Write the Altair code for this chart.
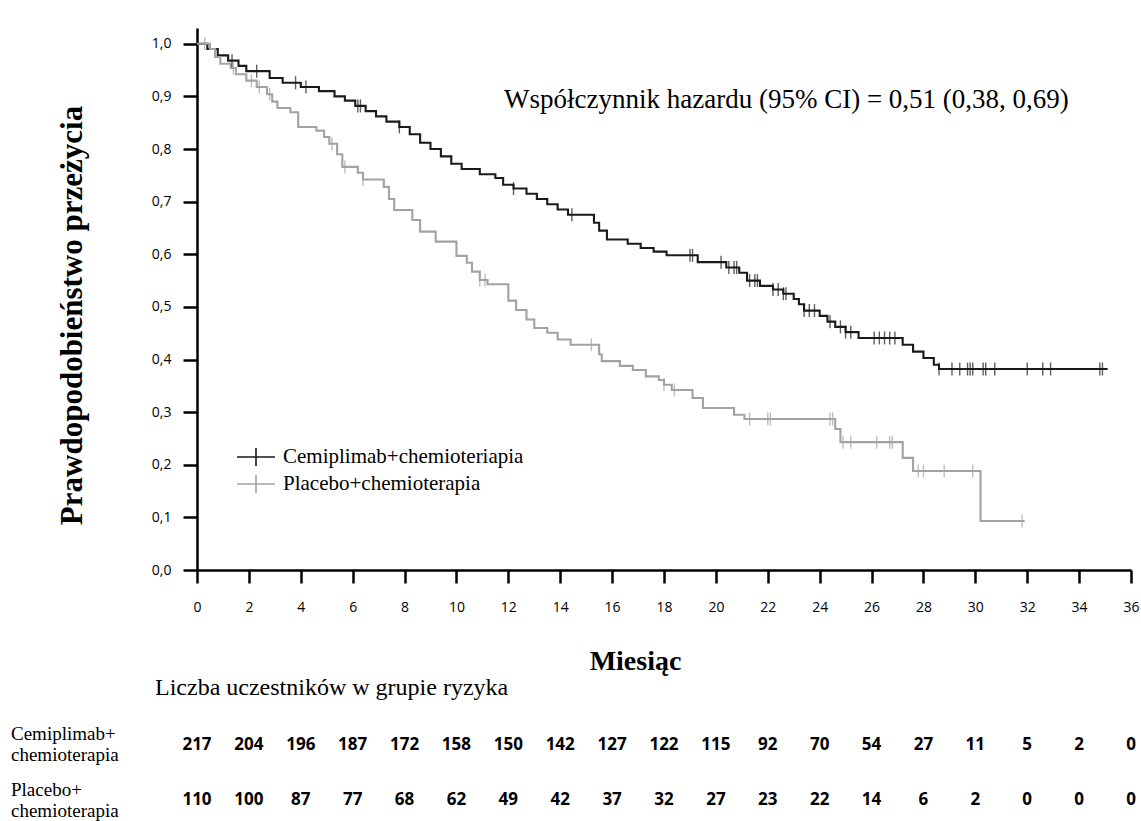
import altair as alt
import pandas as pd
import numpy as np

arm_names = ["Cemiplimab+chemioteriapia", "Placebo+chemioterapia"]

cem_time = [0, 0.4, 0.8, 1.2, 1.6, 1.9, 2.8, 3.3, 4.0, 4.7, 5.3, 5.7, 6.1, 6.5, 6.9, 7.3, 7.8,
            8.2, 8.6, 9.0, 9.4, 9.8, 10.2, 10.9, 11.5, 11.8, 12.2, 12.7, 13.1, 13.5, 13.9, 14.3,
            15.3, 15.5, 15.8, 16.6, 17.1, 17.6, 18.1, 19.3, 20.4, 20.9, 21.2, 21.7, 22.2, 22.6,
            23.0, 23.2, 23.4, 24.0, 24.3, 24.6, 25.0, 25.5, 27.2, 27.6, 28.0, 28.4, 28.6, 35.1]
cem_surv = [1.0, 0.99, 0.978, 0.968, 0.958, 0.948, 0.935, 0.926, 0.918, 0.91, 0.9, 0.892, 0.882,
            0.872, 0.862, 0.852, 0.842, 0.828, 0.812, 0.8, 0.786, 0.772, 0.762, 0.752, 0.745,
            0.732, 0.725, 0.715, 0.705, 0.695, 0.685, 0.675, 0.66, 0.645, 0.628, 0.62, 0.612,
            0.605, 0.598, 0.585, 0.575, 0.565, 0.55, 0.54, 0.533, 0.525, 0.515, 0.505, 0.493,
            0.483, 0.472, 0.462, 0.452, 0.441, 0.428, 0.415, 0.403, 0.39, 0.382, 0.382]

pla_time = [0, 0.5, 0.7, 0.9, 1.3, 1.5, 1.9, 2.3, 2.7, 2.9, 3.1, 3.6, 3.9, 4.6, 4.9, 5.1, 5.4,
            5.6, 6.2, 6.4, 7.2, 7.4, 7.6, 8.3, 8.6, 9.2, 10.0, 10.4, 10.6, 10.9, 11.2, 12.0,
            12.3, 12.7, 13.0, 13.5, 13.9, 14.4, 15.5, 15.6, 16.3, 16.8, 17.3, 17.8, 18.0, 18.3,
            19.1, 19.5, 20.7, 21.1, 24.6, 24.8, 27.2, 27.6, 30.2, 31.9]
pla_surv = [1.0, 0.99, 0.975, 0.962, 0.954, 0.942, 0.93, 0.918, 0.904, 0.89, 0.878, 0.87, 0.842,
            0.835, 0.823, 0.81, 0.79, 0.766, 0.755, 0.742, 0.728, 0.705, 0.684, 0.665, 0.643,
            0.624, 0.597, 0.584, 0.567, 0.551, 0.543, 0.512, 0.494, 0.476, 0.46, 0.451, 0.438,
            0.428, 0.41, 0.397, 0.388, 0.38, 0.368, 0.361, 0.352, 0.342, 0.327, 0.308, 0.295,
            0.287, 0.268, 0.243, 0.213, 0.188, 0.093, 0.093]

cem_censor = [1.35, 2.3, 3.8, 4.2, 6.2, 6.3, 7.8, 12.2, 14.45, 19.0, 19.1, 20.2, 20.5, 20.7,
              20.8, 21.3, 21.5, 21.6, 22.2, 22.4, 22.6, 22.7, 23.4, 23.6, 23.8, 24.4, 24.8,
              25.0, 25.2, 26.1, 26.3, 26.5, 26.7, 26.9, 28.6, 29.1, 29.4, 29.7, 29.8, 29.9,
              30.3, 30.4, 30.75, 32.0, 32.6, 32.9, 34.8, 34.9]
pla_censor = [0.3, 1.4, 2.1, 2.4, 2.8, 5.2, 5.7, 6.4, 10.9, 11.1, 15.2, 18.0, 18.4, 21.3, 22.0,
              22.1, 24.4, 24.5, 24.9, 25.2, 26.2, 26.7, 26.8, 27.8, 28.0, 28.8, 29.9, 31.8]

risk_months = list(range(0, 37, 2))
risk_cem = [217, 204, 196, 187, 172, 158, 150, 142, 127, 122, 115, 92, 70, 54, 27, 11, 5, 2, 0]
risk_pla = [110, 100, 87, 77, 68, 62, 49, 42, 37, 32, 27, 23, 22, 14, 6, 2, 0, 0, 0]

x_ticks = list(range(0, 37, 2))
y_ticks = [round(i * 0.05, 2) for i in range(21)]

hazard_text = "Współczynnik hazardu (95% CI) = 0,51 (0,38, 0,69)"
risk_title = "Liczba uczestników w grupie ryzyka"
row_label_cem = "Cemiplimab+\nchemioterapia"
row_label_pla = "Placebo+\nchemioterapia"

# ---------- tables ----------
def surv_at(times, survs, t):
    i = int(np.searchsorted(np.array(times), t, side="right")) - 1
    return survs[i]

curves = pd.concat([
    pd.DataFrame({"t": cem_time, "s": cem_surv, "arm": arm_names[0]}),
    pd.DataFrame({"t": pla_time, "s": pla_surv, "arm": arm_names[1]}),
])
censors = pd.concat([
    pd.DataFrame({"t": cem_censor, "s": [surv_at(cem_time, cem_surv, t) for t in cem_censor], "arm": arm_names[0]}),
    pd.DataFrame({"t": pla_censor, "s": [surv_at(pla_time, pla_surv, t) for t in pla_censor], "arm": arm_names[1]}),
])
risk_df_c = pd.DataFrame({"m": risk_months, "n": risk_cem})
risk_df_p = pd.DataFrame({"m": risk_months, "n": risk_pla})

SERIF = "Liberation Serif"
SANS = "Open Sans"

x_scale = alt.Scale(domain=[0, 36], nice=False, zero=False)
y_scale = alt.Scale(domain=[0, 1.03], nice=False)
color_scale = alt.Scale(domain=arm_names, range=["#1a1a1a", "#a2a2a2"])

x_axis = alt.Axis(
    values=x_ticks, title="Miesiąc", grid=False, domainColor="#000", domainWidth=2.5,
    tickColor="#000", tickWidth=2.5, tickSize=13, labelFont=SANS, labelFontSize=14,
    labelColor="#000", labelPadding=17, labelFlush=False,
    titleFont=SERIF, titleFontSize=28, titleFontWeight="bold", titleColor="#000",
    titleX=438, titleY=99, titleAnchor="middle", titleBaseline="alphabetic",
)
y_axis = alt.Axis(
    values=y_ticks, title="Prawdopodobieństwo przeżycia", grid=False, domainColor="#000",
    domainWidth=2.5, tickColor="#000", tickWidth=2.5,
    tickSize=alt.expr("round(datum.value * 20) % 2 == 0 ? 14 : 8"),
    labelExpr="round(datum.value * 20) % 2 == 0 ? replace(format(datum.value, '.1f'), '.', ',') : ''",
    labelFont=SANS, labelFontSize=14, labelColor="#000", labelPadding=12,
    titleFont=SERIF, titleFontSize=31, titleFontWeight="bold", titleColor="#000",
    titleX=-125, titleY=287, titleAnchor="middle", titleBaseline="middle",
)

legend = alt.Legend(
    title=None, orient="none", legendX=48, legendY=418, padding=0,
    symbolType="M-1.9,0L1.9,0M0,-0.9L0,0.9", symbolSize=400, symbolStrokeWidth=1.6,
    labelFont=SERIF, labelFontSize=21, labelColor="#000", labelOffset=16, rowPadding=1,
    labelLimit=0,
    labelExpr="datum.label == 'Placebo+chemioterapia' ? '\u00a0\u00a0\u00a0' + datum.label : datum.label",
)

base_x = alt.X("t:Q", scale=x_scale, axis=x_axis)
base_y = alt.Y("s:Q", scale=y_scale, axis=y_axis)

lines = alt.Chart(curves).mark_line(interpolate="step-after", strokeWidth=2.1).encode(
    x=base_x, y=base_y,
    color=alt.Color("arm:N", scale=color_scale, legend=legend),
    detail="arm:N",
)
ticks = alt.Chart(censors).mark_tick(orient="vertical", size=13, thickness=1.4).encode(
    x=alt.X("t:Q", scale=x_scale),
    y=alt.Y("s:Q", scale=y_scale),
    color=alt.Color("arm:N", scale=color_scale, legend=None),
)

hazard = alt.Chart(pd.DataFrame({"label": [hazard_text]})).mark_text(
    font=SERIF, fontSize=27, align="left", baseline="middle", color="#000"
).encode(text="label:N", x=alt.value(307), y=alt.value(72))

risk_head = alt.Chart(pd.DataFrame({"label": [risk_title]})).mark_text(
    font=SERIF, fontSize=24, align="left", baseline="middle", color="#000"
).encode(text="label:N", x=alt.value(-42), y=alt.value(660))

row_c = alt.Chart(pd.DataFrame({"label": [row_label_cem]})).mark_text(
    font=SERIF, fontSize=19, align="left", baseline="middle", color="#000", lineBreak="\n",
    lineHeight=21,
).encode(text="label:N", x=alt.value(-186), y=alt.value(706))
row_p = alt.Chart(pd.DataFrame({"label": [row_label_pla]})).mark_text(
    font=SERIF, fontSize=19, align="left", baseline="middle", color="#000", lineBreak="\n",
    lineHeight=21,
).encode(text="label:N", x=alt.value(-186), y=alt.value(762))

risk_c = alt.Chart(risk_df_c).mark_text(
    font=SANS, fontSize=17, fontWeight="bold", baseline="middle", color="#000"
).encode(x=alt.X("m:Q", scale=x_scale), y=alt.value(717), text="n:Q")
risk_p = alt.Chart(risk_df_p).mark_text(
    font=SANS, fontSize=17, fontWeight="bold", baseline="middle", color="#000"
).encode(x=alt.X("m:Q", scale=x_scale), y=alt.value(772), text="n:Q")

chart = alt.layer(lines, ticks, hazard, risk_head, row_c, row_p, risk_c, risk_p).properties(
    width=934, height=542,
    autosize=alt.AutoSizeParams(type="none"),
    padding={"left": 197, "top": 28, "right": 10, "bottom": 251},
    background="white",
).configure_view(stroke=None)

chart.save("out.html", embed_options={"renderer": "svg", "actions": False})
